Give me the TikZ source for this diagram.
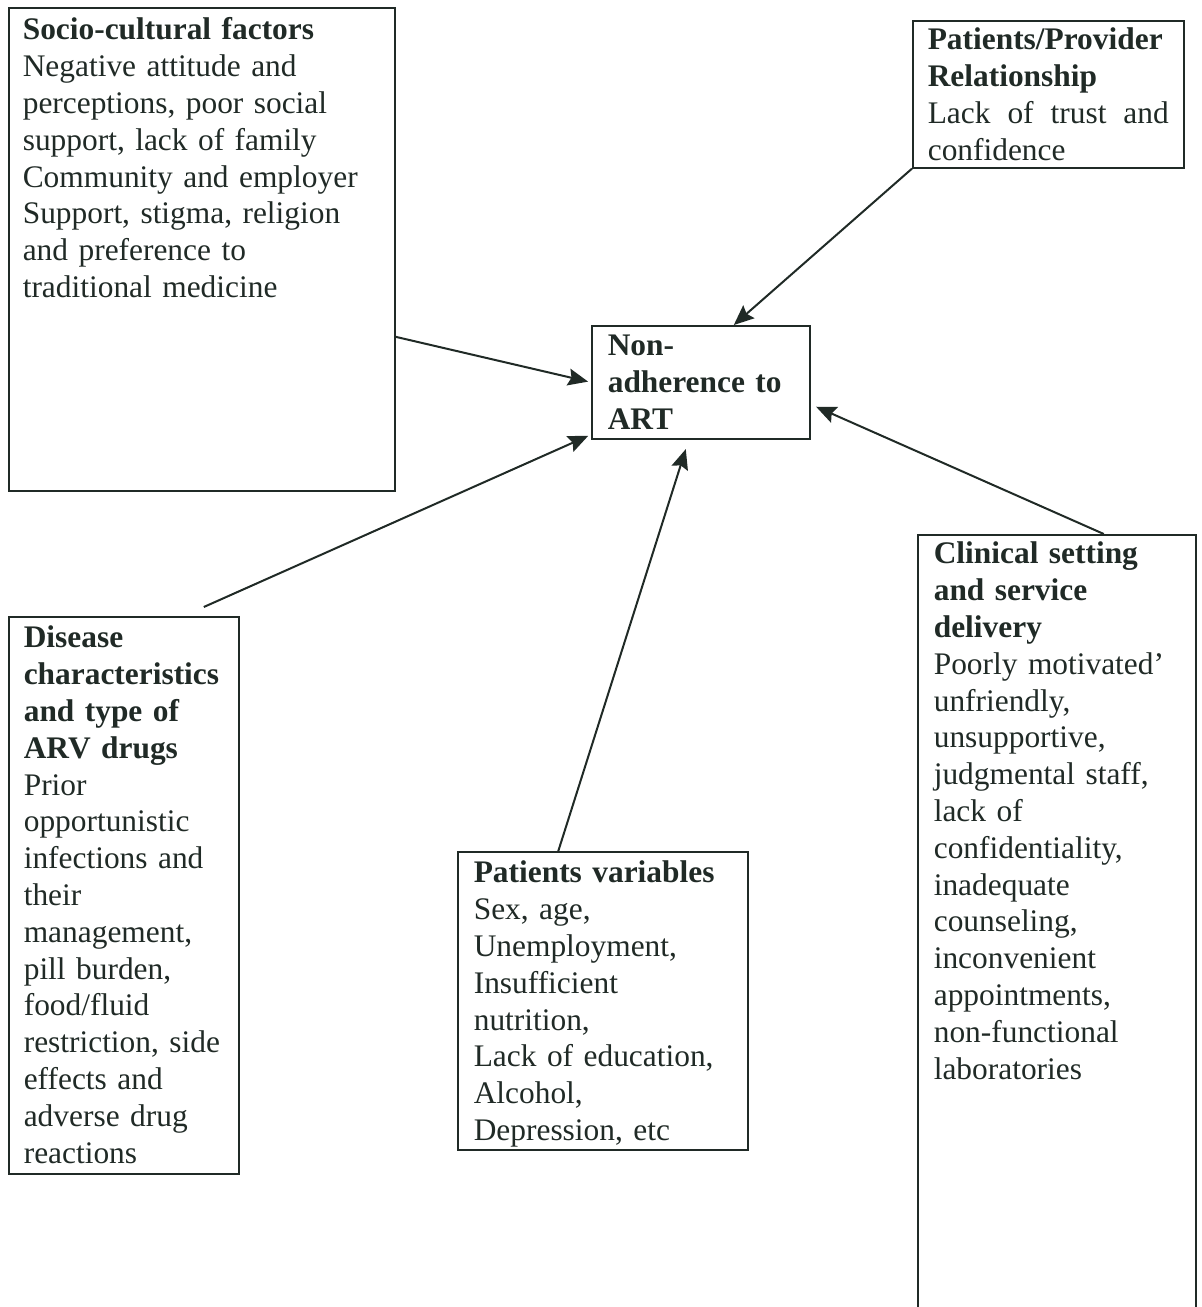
\documentclass[tikz,border=0pt]{standalone}
\usepackage{fontspec}
\setmainfont{Liberation Serif}
\usetikzlibrary{arrows.meta}
\definecolor{ink}{RGB}{32,42,38}
\begin{document}
\begin{tikzpicture}[x=0.5pt,y=-0.5pt,
  factor/.style={draw=ink, text=ink, line width=0.8pt, anchor=north west, align=left,
    inner xsep=8pt, inner ysep=4pt, font=\fontsize{15.7}{18.4}\selectfont},
  link/.style={draw=ink, line width=1pt, -{Stealth[length=10pt,width=8.5pt,inset=1.5pt]}}]
\useasboundingbox (0,0) rectangle (1201,1307);
	\node[factor, inner xsep=7pt, text width=179pt, text height=12pt, text depth=221.5pt] (socio) at (8,7)
	{\textbf{Socio-cultural factors}\\Negative attitude and\\perceptions, poor social\\support, lack of family\\Community and employer\\Support, stigma, religion\\and preference to\\traditional medicine};
	\node[factor, align=justify, inner xsep=7.5pt, text width=120.5pt, text height=10.5pt, text depth=55pt] (prov) at (912,20)
	{\textbf{Patients/Provider}\\\textbf{Relationship}\\Lack of trust and\linebreak confidence};
	\node[factor, font=\fontsize{15.7}{18.4}\selectfont\bfseries, text width=93pt, text height=11pt, text depth=37.5pt] (art) at (591,325)
	{Non-\\adherence to\\ART};
	\node[factor, inner xsep=7.5pt, text width=100pt, text height=11.5pt, text depth=259pt] (dis) at (8,616)
	{\textbf{Disease}\\\textbf{characteristics}\\\textbf{and type of}\\\textbf{ARV drugs}\\Prior\\opportunistic\\infections and\\their\\management,\\pill burden,\\food/fluid\\restriction, side\\effects and\\adverse drug\\reactions};
	\node[factor, text width=129pt, text height=11.5pt, text depth=129.5pt] (pat) at (457,851)
	{\textbf{Patients variables}\\Sex, age,\\Unemployment,\\Insufficient\\nutrition,\\Lack of education,\\Alcohol,\\Depression, etc};
	\node[factor, text width=123pt, text height=10.5pt, text depth=381.5pt] (clin) at (917,534)
	{\textbf{Clinical setting}\\\textbf{and service}\\\textbf{delivery}\\Poorly motivated’\\unfriendly,\\unsupportive,\\judgmental staff,\\lack of\\confidentiality,\\inadequate\\counseling,\\inconvenient\\appointments,\\non-functional\\laboratories};
\draw[link, shorten >=1.5pt] ([yshift=-43.75pt]socio.east) -- (art.west);
\draw[link] (prov.south west) -- ([xshift=16.5pt]art.north);
\draw[link, shorten >=1.5pt] ([shift={(40pt,4.5pt)}]dis.north) -- ([yshift=2.5pt]art.south west);
\draw[link, shorten >=5pt] ([xshift=-22.25pt]pat.north) -- ([xshift=-6pt]art.south);
\draw[link, shorten >=3pt] ([xshift=23.5pt]clin.north) -- ([yshift=-11pt]art.east);
	\end{tikzpicture}
\end{document}
